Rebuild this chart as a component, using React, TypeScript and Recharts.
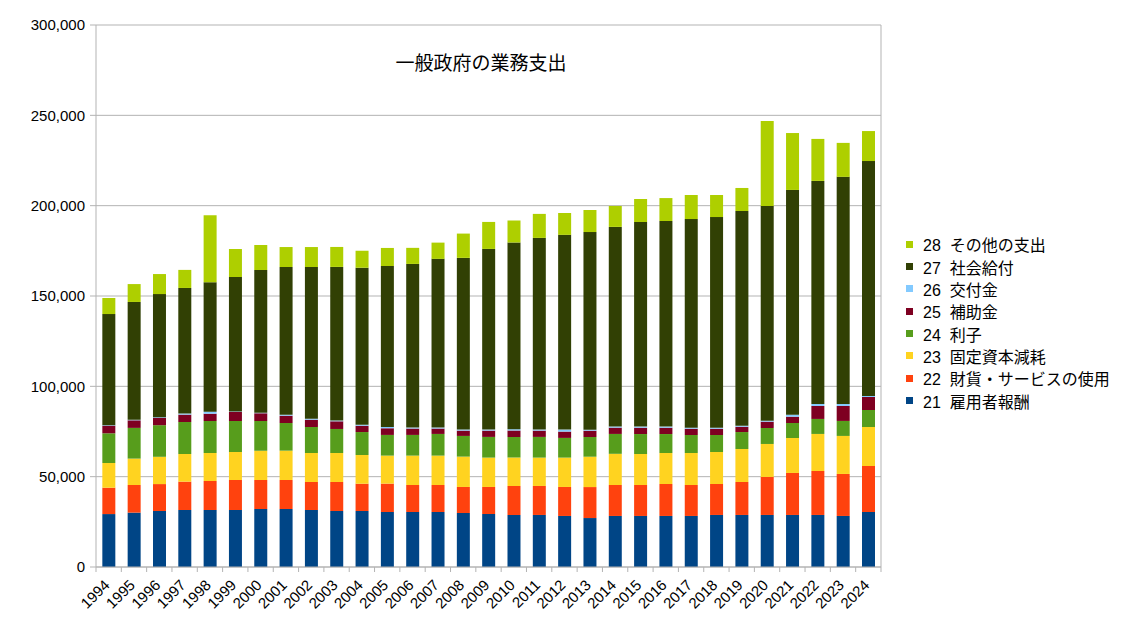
import React from "react";
import { BarChart, Bar, XAxis, YAxis, CartesianGrid } from "recharts";

const years = [
  "1994", "1995", "1996", "1997", "1998", "1999", "2000", "2001", "2002", "2003",
  "2004", "2005", "2006", "2007", "2008", "2009", "2010", "2011", "2012", "2013",
  "2014", "2015", "2016", "2017", "2018", "2019", "2020", "2021", "2022", "2023", "2024",
];

// 21 雇用者報酬
const compensation = [
  29300, 30100, 31000, 31550, 31550, 31550, 32100, 32100, 31550, 31000,
  31000, 30450, 30450, 30450, 29900, 29350, 28800, 28800, 28250, 27100,
  28250, 28250, 28250, 28250, 28800, 28800, 28800, 28800, 28800, 28250, 30450,
];
// 22 財貨・サービスの使用
const goodsServices = [
  14600, 15300, 14900, 15700, 16050, 16600, 16050, 16050, 15500, 16050,
  15100, 15700, 14950, 14950, 14400, 14950, 16050, 16050, 16050, 17150,
  17150, 17150, 17700, 17150, 17150, 18250, 21050, 23250, 24350, 23250, 25450,
];
// 23 固定資本減耗
const depreciation = [
  13660, 14600, 15100, 15300, 15500, 15500, 16250, 16250, 16050, 16050,
  15900, 15500, 16250, 16250, 16800, 16250, 15700, 15700, 16250, 16800,
  17250, 17150, 17150, 17700, 17700, 18250, 18250, 19350, 20500, 21050, 21600,
];
// 24 利子
const interest = [
  16440, 17000, 17500, 17700, 17700, 17150, 16400, 15300, 14400, 13300,
  12700, 11450, 11450, 12000, 11450, 11450, 11450, 11450, 10900, 10900,
  11000, 11050, 10500, 9950, 9400, 9400, 8850, 8300, 8300, 8300, 9400,
];
// 25 補助金
const subsidies = [
  4200, 4200, 4100, 4100, 4050, 5000, 4250, 4050, 4050, 4250,
  3500, 3700, 3550, 3000, 2950, 3500, 3500, 3500, 3500, 3500,
  3500, 3500, 3500, 3500, 3500, 2950, 3500, 3500, 7200, 8300, 7200,
];
// 26 交付金
const grants = [
  300, 300, 350, 600, 1100, 300, 350, 550, 550, 400,
  550, 700, 500, 500, 600, 550, 800, 550, 1100, 550,
  600, 600, 600, 550, 550, 550, 550, 1100, 1100, 1100, 550,
];
// 27 社会給付
const socialBenefits = [
  61500, 65200, 68100, 69500, 71700, 74400, 79000, 81750, 83950, 85050,
  86900, 89100, 90600, 93400, 95000, 100000, 103300, 106100, 107800, 109400,
  110500, 113250, 113800, 115500, 116600, 118850, 118800, 124400, 123450, 125700, 130050,
];
// 28 その他の支出
const otherSpending = [
  8900, 9900, 11100, 10000, 37100, 15500, 13800, 11050, 11050, 11050,
  9400, 10000, 8900, 9000, 13450, 14950, 12200, 13300, 12100, 12200,
  11600, 12750, 12700, 13300, 12200, 12750, 47100, 31500, 23250, 18800, 16600,
];

const yTicks = [0, 50000, 100000, 150000, 200000, 250000, 300000];

const series = [
  { key: "s21", label: "21  雇用者報酬", color: "#004586", values: compensation },
  { key: "s22", label: "22  財貨・サービスの使用", color: "#ff420e", values: goodsServices },
  { key: "s23", label: "23  固定資本減耗", color: "#ffd320", values: depreciation },
  { key: "s24", label: "24  利子", color: "#579d1c", values: interest },
  { key: "s25", label: "25  補助金", color: "#7e0021", values: subsidies },
  { key: "s26", label: "26  交付金", color: "#83caff", values: grants },
  { key: "s27", label: "27  社会給付", color: "#314004", values: socialBenefits },
  { key: "s28", label: "28  その他の支出", color: "#aecf00", values: otherSpending },
];

const data = years.map((year, i) => {
  const row: Record<string, any> = { year };
  series.forEach((s) => (row[s.key] = s.values[i]));
  return row;
});

const FONT = '"Liberation Sans", "Noto Sans CJK JP", sans-serif';
const GRID = "#b3b3b3";
const W = 1126;
const H = 621;
const MARGIN = { top: 25, right: 244, bottom: 0, left: 0 };
const Y_WIDTH = 96;
const PLOT_W = W - MARGIN.right - 1 - Y_WIDTH;
const BAND = PLOT_W / years.length;

function YearTick(props: any) {
  const { x, y, payload, index } = props;
  const half = BAND / 2;
  const axisY = y - 8;
  const px = x + 2;
  const py = y + 11;
  return (
    <g>
      <line x1={x - half} y1={axisY} x2={x - half} y2={axisY + 5} stroke={GRID} />
      {index === years.length - 1 && (
        <line x1={x + half} y1={axisY} x2={x + half} y2={axisY + 5} stroke={GRID} />
      )}
      <text
        x={px}
        y={py}
        textAnchor="end"
        fontSize={15}
        fontFamily={FONT}
        fill="#000"
        transform={`rotate(-45, ${px}, ${py})`}
      >
        {payload.value}
      </text>
    </g>
  );
}

export default function App() {
  return (
    <div
      style={{
        position: "absolute",
        left: 0,
        top: 0,
        width: W,
        height: H,
        background: "#fff",
        fontFamily: FONT,
      }}
    >
      <BarChart width={W} height={H} data={data} margin={MARGIN} barCategoryGap="25%">
        <CartesianGrid vertical={false} stroke={GRID} />
        <XAxis
          dataKey="year"
          height={54}
          interval={0}
          tickLine={false}
          tickSize={5}
          tickMargin={3}
          axisLine={{ stroke: GRID }}
          tick={<YearTick />}
        />
        <YAxis
          width={Y_WIDTH}
          domain={[0, 300000]}
          ticks={yTicks}
          tickSize={6}
          tickMargin={5}
          axisLine={{ stroke: GRID }}
          tickLine={{ stroke: GRID }}
          tick={{ fontSize: 15, fill: "#000", fontFamily: FONT }}
          tickFormatter={(v) => v.toLocaleString("en-US")}
        />
        <YAxis
          yAxisId="border"
          orientation="right"
          width={1}
          domain={[0, 300000]}
          tick={false}
          tickLine={false}
          axisLine={{ stroke: GRID }}
        />
        {series.map((s) => (
          <Bar key={s.key} dataKey={s.key} stackId="a" fill={s.color} isAnimationActive={false} />
        ))}
      </BarChart>

      {/* title sits inside the plot area */}
      <div
        style={{
          position: "absolute",
          left: 0,
          width: 962,
          top: 53.5,
          textAlign: "center",
          fontSize: 19,
          lineHeight: "19px",
          color: "#000",
        }}
      >
        一般政府の業務支出
      </div>

      {/* legend, top item = last series */}
      <div style={{ position: "absolute", left: 906, top: 233, fontSize: 16, color: "#000" }}>
        {[...series].reverse().map((s) => (
          <div key={s.key} style={{ display: "flex", alignItems: "center", height: 22.35, whiteSpace: "pre" }}>
            <span style={{ width: 7, height: 7, background: s.color, display: "inline-block", marginRight: 10 }} />
            <span>{s.label}</span>
          </div>
        ))}
      </div>
    </div>
  );
}
